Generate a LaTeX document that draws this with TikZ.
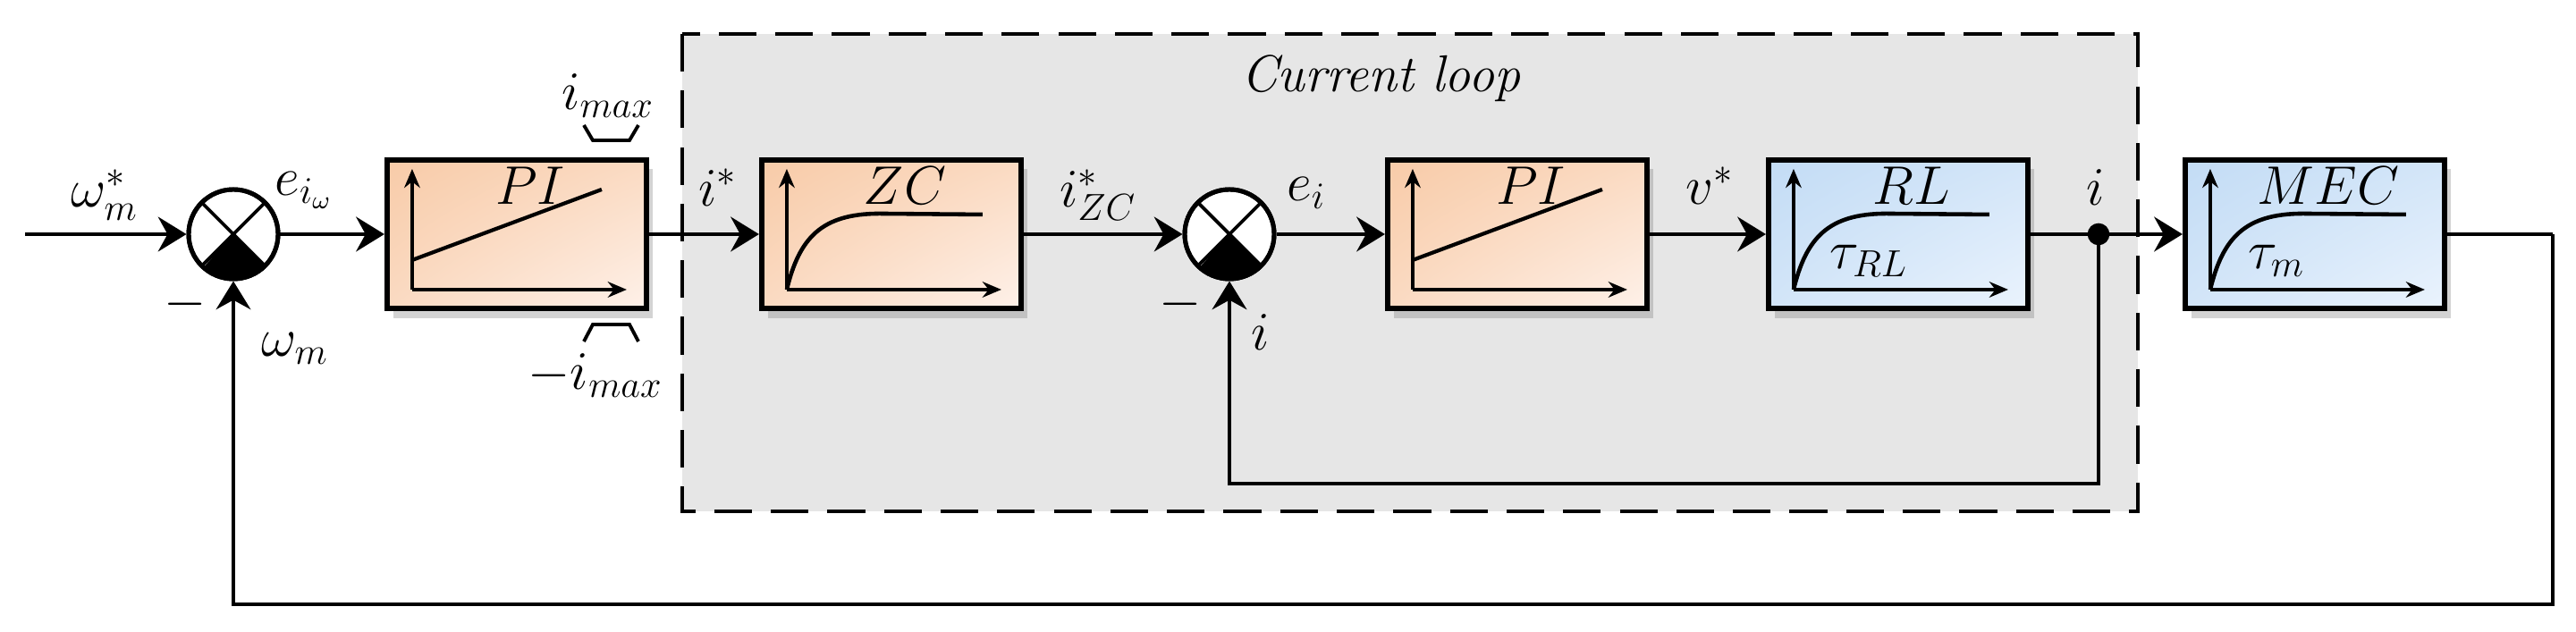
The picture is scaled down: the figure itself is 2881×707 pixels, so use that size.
\documentclass[tikz,border=0pt]{standalone}
\usetikzlibrary{arrows.meta,shadows,shadings,calc}
\definecolor{orgA}{HTML}{F8CBA8}
\definecolor{orgB}{HTML}{FEF1E9}
\definecolor{bluA}{HTML}{C3DCF5}
\definecolor{bluB}{HTML}{EAF3FD}
\definecolor{loopbg}{HTML}{E6E6E6}
\begin{document}
\begin{tikzpicture}[x=0.01cm,y=-0.01cm,line width=1.4pt,
  font=\fontsize{16.5}{19}\selectfont,
  >={Stealth[length=9pt,width=11pt,inset=3pt]},
  blk/.style={draw,line width=1.7pt,minimum width=2.9cm,minimum height=1.66cm,
    drop shadow={shadow xshift=2pt,shadow yshift=-3pt,opacity=.35}},
  org/.style={blk,upper left=orgA,upper right=orgA!60!orgB,lower left=orgA!60!orgB,lower right=orgB},
  blu/.style={blk,upper left=bluA,upper right=bluA!60!bluB,lower left=bluA!60!bluB,lower right=bluB},
  axis/.style={-{Stealth[length=6pt,width=5pt]},line width=1.1pt},
  sumj/.style={circle,draw,fill=white,minimum size=1cm,inner sep=0pt,line width=1.4pt},
  lbl/.style={inner sep=1pt}]
\useasboundingbox (0,0) rectangle (2881,707);
% current loop frame
\draw[dashed,dash pattern=on 12pt off 6pt,fill=loopbg,line width=1.3pt] (763,38) rectangle (2391,572);
\node[lbl] (cl) at (1544,88) {\textit{Current loop}};
% blocks
\node[sumj] (s1) at (261,262) {};
\node[org] (pi1) at (578,262) {};
\node[org] (zc) at (997,262) {};
\node[sumj] (s2) at (1375,262) {};
\node[org] (pi2) at (1697,262) {};
\node[blu] (rl) at (2123,262) {};
\node[blu] (mec) at (2589,262) {};
% summing junction marks
\foreach \s in {s1,s2}{
  \fill (\s.center) -- (\s.-45) arc (-45:-135:0.5cm) -- cycle;
  \draw[line width=1.1pt] (\s.45) -- (\s.-135) (\s.135) -- (\s.-45);
  \draw (\s) circle (0.5cm);
}
% mini plots
\foreach \b in {pi1,zc,pi2,rl,mec}{
  \begin{scope}[shift={(\b.north west)}]
    \draw[axis] (31,148) -- (31,13);
    \draw[axis] (31,148) -- (271,148);
  \end{scope}
}
\foreach \b in {pi1,pi2}{
  \draw[shift={(\b.north west)},line width=1.2pt] (31,115) -- (243,36);
}
\foreach \b in {zc,rl,mec}{
  \draw[shift={(\b.north west)},line width=1.3pt] (31,148) .. controls (45,90) and (70,63) .. (135,63) -- (250,64);
}
\node[lbl] (t1) at ($(pi1.north)+(15,32)$) {$PI$};
\node[lbl] (t2) at ($(zc.north)+(15,32)$) {$ZC$};
\node[lbl] (t3) at ($(pi2.north)+(15,32)$) {$PI$};
\node[lbl] (t4) at ($(rl.north)+(15,32)$) {$RL$};
\node[lbl] (t5) at ($(mec.north)+(15,32)$) {$MEC$};
\node[lbl] (tau1) at ($(rl.north west)+(115,116)$) {$\tau_{RL}$};
\node[lbl] (tau2) at ($(mec.north west)+(105,116)$) {$\tau_{m}$};
% connectors
\coordinate (in) at (28,262);
\coordinate (out) at (2855,262);
\coordinate (br) at (2347,262);
\draw[->] (in) -- (s1);
\draw[->] (s1) -- (pi1);
\draw[->] (pi1) -- (zc);
\draw[->] (zc) -- (s2);
\draw[->] (s2) -- (pi2);
\draw[->] (pi2) -- (rl);
\draw[->] (rl) -- (mec);
\draw (mec) -- (out);
\fill (br) circle (3.5pt);
\draw[->] (br) -- (2347,541) -| (s2);
\draw[->,line width=1.1pt] (out) -- (2855,676) -| (s1);
% saturation marks
\draw[line width=1.1pt] (653,140) -- (663,157) -- (704,157) -- (714,140);
\draw[line width=1.1pt] (653,382) -- (663,363) -- (704,363) -- (714,382);
% labels
\node[lbl] (l1) at (117,218) {$\omega_m^*$};
\node[lbl] (l2) at (340,213) {$e_{i_\omega}$};
\node[lbl] (l3) at (207,340) {$-$};
\node[lbl] (l4) at (330,390) {$\omega_m$};
\node[lbl] (l5) at (680,107) {$i_{max}$};
\node[lbl] (l6) at (666,420) {$-i_{max}$};
\node[lbl] (l7) at (803,210) {$i^*$};
\node[lbl] (l8) at (1228,218) {$i^*_{ZC}$};
\node[lbl] (l9) at (1461,216) {$e_i$};
\node[lbl] (l10) at (1320,340) {$-$};
\node[lbl] (l11) at (1410,372) {$i$};
\node[lbl] (l12) at (1912,208) {$v^*$};
\node[lbl] (l13) at (2344,210) {$i$};
\end{tikzpicture}
\end{document}
